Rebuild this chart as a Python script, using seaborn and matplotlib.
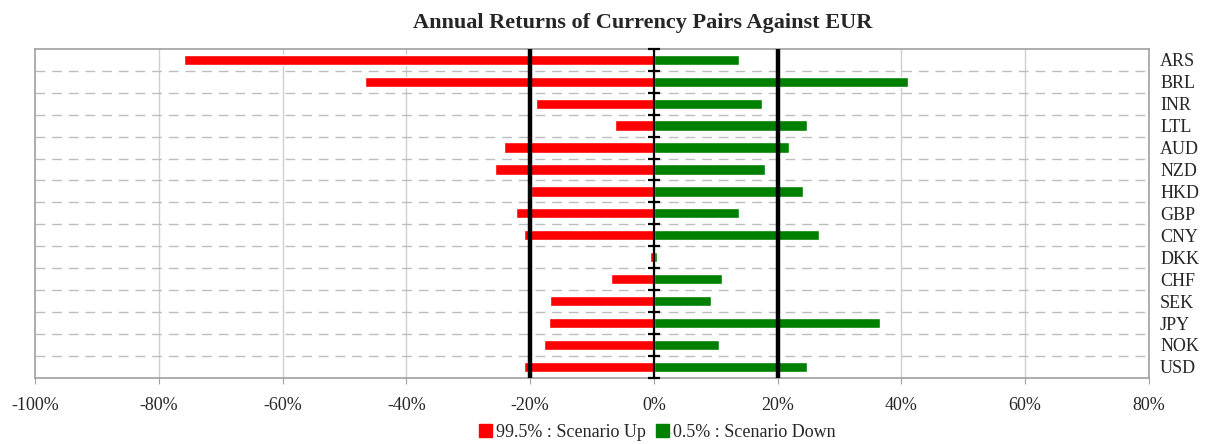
import numpy as np
import pandas as pd
import matplotlib
matplotlib.use("Agg")
import matplotlib.pyplot as plt
import seaborn as sns
from matplotlib.patches import Patch
from matplotlib.ticker import PercentFormatter


# Data (percent)
currencies = ['ARS', 'BRL', 'INR', 'LTL', 'AUD', 'NZD', 'HKD', 'GBP',
              'CNY', 'DKK', 'CHF', 'SEK', 'JPY', 'NOK', 'USD']
scenario_up = [-76.0, -46.6, -19.0, -6.3, -24.2, -25.7, -19.9, -22.3,
               -21.0, -0.7, -6.9, -16.8, -17.0, -17.7, -21.0]
scenario_down = [13.8, 41.1, 17.5, 24.7, 21.8, 18.0, 24.1, 13.8,
                 26.7, 0.5, 11.0, 9.3, 36.5, 10.6, 24.7]
x_ticks = [-100, -80, -60, -40, -20, 0, 20, 40, 60, 80]
limit_lines = [-20, 20]

up_label = '99.5% : Scenario Up'
down_label = '0.5% : Scenario Down'
red = '#ff0000'
green = '#008000'

df = pd.DataFrame({'currency': currencies,
                   'up': scenario_up,
                   'down': scenario_down})

sns.set_style('white')
plt.rcParams['font.family'] = ['Liberation Serif', 'DejaVu Serif']
plt.rcParams['axes.unicode_minus'] = False

fig = plt.figure(figsize=(12.06, 4.44), dpi=100)
ax = fig.add_axes([0.029, 0.149, 0.9237, 0.741])

### bars
sns.barplot(data=df, x='up', y='currency', color=red, width=0.47,
            saturation=1, orient='h', ax=ax, zorder=3)
sns.barplot(data=df, x='down', y='currency', color=green, width=0.47,
            saturation=1, orient='h', ax=ax, zorder=3)

n = len(currencies)
ax.set_ylim(n - 0.5, -0.5)
ax.set_xlim(x_ticks[0], x_ticks[-1])

### grid: vertical solid, horizontal dashed between rows
for xv in x_ticks[1:-1]:
    ax.axvline(xv, color='#cfcfcf', lw=1.0, zorder=1)
for yb in np.arange(0.5, n - 0.5, 1):
    ax.axhline(yb, color='#bdbdbd', lw=1.0, ls=(0, (7, 5)), zorder=1)

### limit lines and zero axis with row ticks
for xv in limit_lines:
    ax.axvline(xv, color='black', lw=3.2, zorder=5)
ax.axvline(0, color='black', lw=1.6, zorder=6)
ax.plot(np.zeros(n + 1), np.arange(-0.5, n, 1), ls='none', marker='_',
        ms=9, mew=1.6, color='black', zorder=6, clip_on=False)

### axes styling
ax.set_xticks(x_ticks)
ax.xaxis.set_major_formatter(PercentFormatter(decimals=0))
ax.yaxis.tick_right()
ax.tick_params(axis='y', length=0, pad=8, labelsize=13)
ax.tick_params(axis='x', length=4, color='#a0a0a0', bottom=True,
               pad=10, labelsize=13)
ax.set_xlabel('')
ax.set_ylabel('')
for s in ax.spines.values():
    s.set_color('#a0a0a0')
    s.set_linewidth(1.2)

fig.suptitle('Annual Returns of Currency Pairs Against EUR', x=0.533, y=0.97,
             fontsize=16, fontweight='bold')

handles = [Patch(color=red, label=up_label), Patch(color=green, label=down_label)]
fig.legend(handles=handles, loc='lower center', bbox_to_anchor=(0.545, -0.03),
           ncol=2, frameon=False, fontsize=13, handlelength=0.7,
           handleheight=0.7, handletextpad=0.2, columnspacing=0.6)

fig.savefig('out.png', dpi=100)
